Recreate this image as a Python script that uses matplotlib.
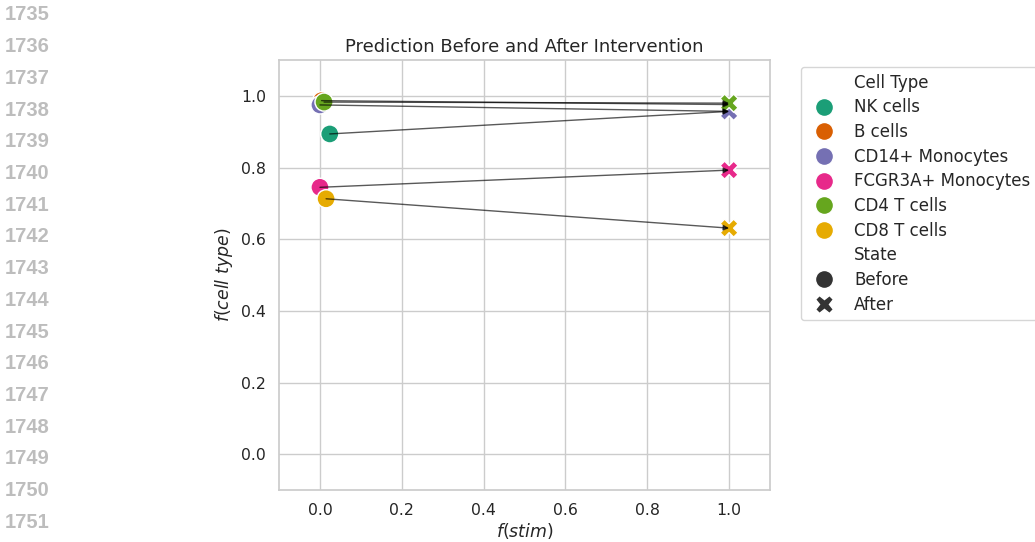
import matplotlib
matplotlib.use("Agg")
import matplotlib.pyplot as plt
import seaborn as sns
import pandas as pd

cell_types = ["NK cells", "B cells", "CD14+ Monocytes", "FCGR3A+ Monocytes", "CD4 T cells", "CD8 T cells"]
stim_before = [0.024, 0.004, 0.0, 0.0, 0.010, 0.015]
ct_before = [0.894, 0.987, 0.975, 0.745, 0.983, 0.713]
stim_after = [1.0, 1.0, 1.0, 1.0, 1.0, 1.0]
ct_after = [0.957, 0.976, 0.957, 0.793, 0.980, 0.631]
line_numbers = list(range(1735, 1752))

df = pd.DataFrame({
    "stim": stim_before + stim_after,
    "ct": ct_before + ct_after,
    "Cell Type": cell_types * 2,
    "State": ["Before"] * 6 + ["After"] * 6,
})

sns.set_theme(style="whitegrid")
plt.rcParams["font.family"] = ["DejaVu Sans"]
fig = plt.figure(figsize=(10.35, 5.42), dpi=100)
ax = fig.add_axes([0.2696, 0.096, 0.4744, 0.793])

sns.scatterplot(data=df, x="stim", y="ct", hue="Cell Type", style="State",
                hue_order=cell_types, palette="Dark2",
                markers={"Before": "o", "After": "X"}, s=170, ax=ax)

for i in range(len(cell_types)):
    ax.annotate("", xy=(stim_after[i], ct_after[i]), xytext=(stim_before[i], ct_before[i]),
                arrowprops=dict(arrowstyle="-|>", color="black", alpha=0.65, lw=1,
                                mutation_scale=8, shrinkA=0, shrinkB=0))

ax.set_xlim(-0.1, 1.1)
ax.set_ylim(-0.1, 1.1)
ax.set_xticks([0.0, 0.2, 0.4, 0.6, 0.8, 1.0])
ax.set_yticks([0.0, 0.2, 0.4, 0.6, 0.8, 1.0])
ax.tick_params(labelsize=11.3)
ax.set_title("Prediction Before and After Intervention", fontsize=13)
ax.set_xlabel(r"$f(stim)$", fontsize=12.5, labelpad=2)
ax.set_ylabel(r"$f(cell\ type)$", fontsize=12.5)
ax.legend(bbox_to_anchor=(1.063, 0.984), loc="upper left", borderaxespad=0.0,
          fontsize=12, labelspacing=0.4)

for k, n in enumerate(line_numbers):
    fig.text(0.005, 1 - (15 + k * 31.7) / 542, str(n), color="#bdbdbd",
             fontsize=14.5, fontweight="bold", family="Liberation Sans", va="center")

fig.savefig("out.png", dpi=100)
